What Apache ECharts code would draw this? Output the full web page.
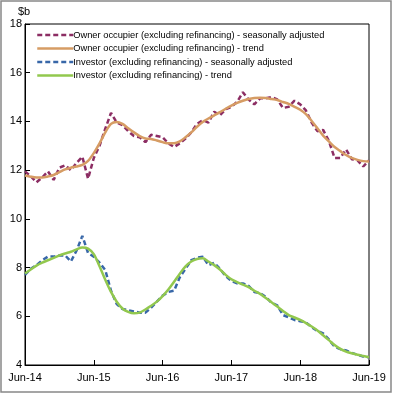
<!DOCTYPE html>
<html>
<head>
<meta charset="utf-8">
<script src="https://cdn.jsdelivr.net/npm/echarts@6/dist/echarts.min.js"></script>
<style>
html,body{margin:0;padding:0;background:#fff;}
#c{width:395px;height:394px;}
</style>
</head>
<body>
<div id="c"></div>
<script>
// Monthly, Jun-2014 .. Jun-2019
const tickLabels = ["Jun-14","Jun-15","Jun-16","Jun-17","Jun-18","Jun-19"];
const monthNames = ["Jun","Jul","Aug","Sep","Oct","Nov","Dec","Jan","Feb","Mar","Apr","May"];

const ownerSA = [11.95,11.75,11.5,11.7,11.95,11.6,12.1,12.2,12.0,12.3,12.55,11.65,12.5,13.0,13.7,14.35,
  13.95,13.85,13.6,13.4,13.35,13.15,13.45,13.4,13.35,13.1,12.95,13.1,13.3,13.55,13.9,
  14.05,13.95,14.4,14.25,14.5,14.6,14.8,15.2,14.9,14.7,14.95,14.95,15.0,14.9,14.55,14.6,14.85,14.7,14.45,
  13.95,13.6,13.65,13.2,12.5,12.5,12.85,12.45,12.4,12.15,12.4];
const ownerTrend = [11.78,11.73,11.7,11.7,11.74,11.8,11.92,12.03,12.1,12.15,12.22,12.38,12.7,13.1,13.55,13.9,
  13.98,13.9,13.72,13.55,13.4,13.3,13.28,13.22,13.15,13.1,13.1,13.18,13.35,13.55,13.78,
  13.98,14.12,14.25,14.38,14.52,14.65,14.76,14.85,14.92,14.96,14.97,14.96,14.92,14.88,14.8,14.72,14.6,14.48,14.3,
  14.02,13.72,13.42,13.18,12.95,12.78,12.62,12.5,12.42,12.37,12.35];
const investorSA = [7.7,7.95,8.1,8.3,8.45,8.45,8.5,8.5,8.25,8.7,9.3,8.6,8.45,8.2,7.9,7.05,
  6.5,6.3,6.25,6.2,6.15,6.15,6.35,6.6,6.85,7.0,7.05,7.6,7.95,8.3,8.4,
  8.45,8.1,8.2,7.95,7.65,7.45,7.35,7.35,7.25,7.0,6.95,6.8,6.55,6.45,6.05,5.95,5.85,5.8,5.75,
  5.55,5.4,5.3,5.05,4.75,4.65,4.6,4.5,4.42,4.35,4.32];
const investorTrend = [7.76,7.92,8.08,8.2,8.3,8.4,8.5,8.58,8.65,8.75,8.82,8.78,8.55,8.05,7.5,7.0,
  6.6,6.32,6.18,6.12,6.15,6.28,6.43,6.6,6.83,7.1,7.42,7.75,8.05,8.25,8.35,
  8.38,8.25,8.1,7.92,7.7,7.52,7.4,7.3,7.2,7.05,6.92,6.75,6.58,6.4,6.22,6.05,5.95,5.85,5.72,
  5.58,5.42,5.22,5.02,4.82,4.66,4.55,4.48,4.42,4.37,4.32];

const names = [
  "Owner occupier (excluding refinancing) - seasonally adjusted",
  "Owner occupier (excluding refinancing) - trend",
  "Investor (excluding refinancing) - seasonally adjusted",
  "Investor (excluding refinancing) - trend"
];

const categories = [];
for (let i = 0; i < ownerSA.length; i++) {
  const yr = 14 + Math.floor((i + 5) / 12);
  categories.push(monthNames[i % 12] + "-" + yr);
}

const chart = echarts.init(document.getElementById('c'), null, {renderer:'canvas'});
const FONT = '"Liberation Sans", Arial, sans-serif';
const dashed = [5, 3];
chart.setOption({
  animation: false,
  backgroundColor: '#fff',
  grid: {left: 25, right: 26, top: 24, bottom: 29, show: true, borderColor: '#000', borderWidth: 1, containLabel: false},
  graphic: [
    {type: 'rect', shape: {x: 1, y: 1, width: 390, height: 391}, style: {fill: 'none', stroke: '#888', lineWidth: 1.5}, silent: true},
    {type: 'text', left: 18, top: 6, style: {text: '$b', font: '11px ' + FONT, fill: '#000'}}
  ],
  legend: {
    orient: 'vertical', left: 36, top: 30, padding: 0,
    itemWidth: 36, itemHeight: 10, itemGap: 3.5,
    data: names,
    itemStyle: {opacity: 0},
    lineStyle: {width: 2.5},
    textStyle: {fontFamily: FONT, fontSize: 9.3, lineHeight: 10, color: '#000', padding: [0,0,0,-5]}
  },
  xAxis: {
    type: 'category', data: categories, boundaryGap: false,
    axisLine: {lineStyle: {color: '#000', width: 1}},
    axisTick: {inside: true, length: 5, lineStyle: {color: '#000'}, interval: function(i){return i % 12 === 0;}},
    axisLabel: {interval: function(i){return i % 12 === 0;}, color: '#000', fontFamily: FONT, fontSize: 11, margin: 7,
      formatter: function(v, i){ return tickLabels[Math.round(i/12)]; }},
    splitLine: {show: false}
  },
  yAxis: {
    type: 'value', min: 4, max: 18, interval: 2,
    axisLine: {show: true, lineStyle: {color: '#000', width: 1}},
    axisTick: {show: true, inside: true, length: 5, lineStyle: {color: '#000'}},
    axisLabel: {color: '#000', fontFamily: FONT, fontSize: 11, margin: 3},
    splitLine: {show: false}
  },
  series: [
    {name: names[0], type: 'line', data: ownerSA, symbol: 'none', z: 2,
      lineStyle: {color: '#8c2d63', width: 2.5, type: dashed}, itemStyle: {color: '#8c2d63'}},
    {name: names[2], type: 'line', data: investorSA, symbol: 'none', z: 2,
      lineStyle: {color: '#3867a8', width: 2.5, type: dashed}, itemStyle: {color: '#3867a8'}},
    {name: names[1], type: 'line', data: ownerTrend, symbol: 'none', smooth: 0.3, z: 3,
      lineStyle: {color: '#d69c64', width: 2.5}, itemStyle: {color: '#d69c64'}},
    {name: names[3], type: 'line', data: investorTrend, symbol: 'none', smooth: 0.3, z: 3,
      lineStyle: {color: '#92c84e', width: 2.5}, itemStyle: {color: '#92c84e'}}
  ]
});
</script>
</body>
</html>
